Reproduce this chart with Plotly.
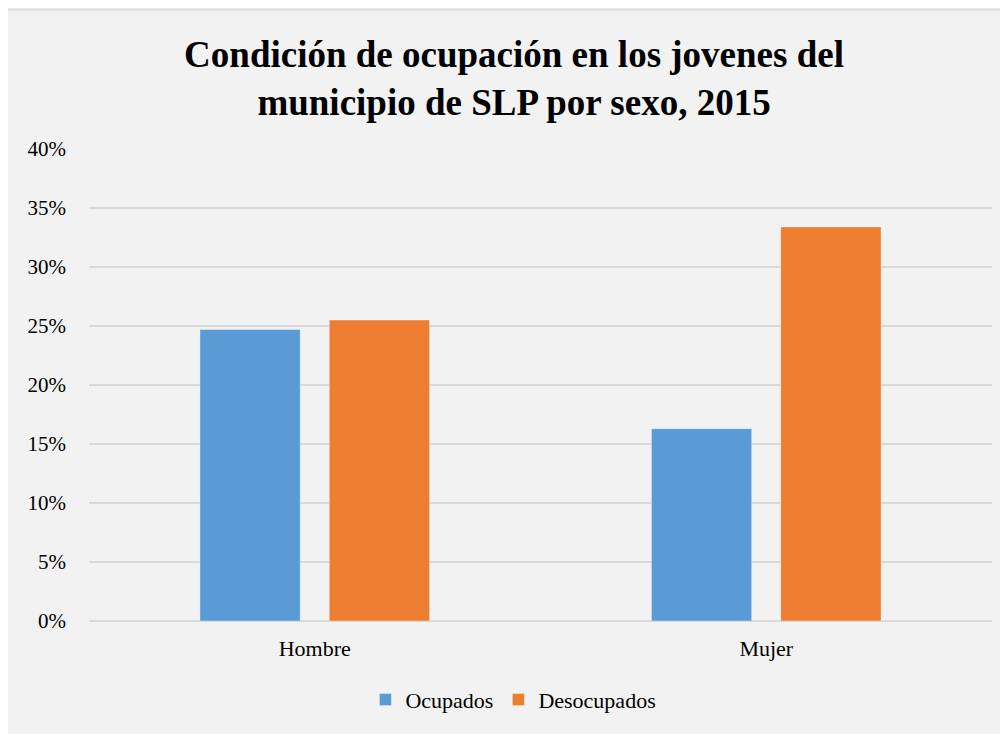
import plotly.graph_objects as go

categories = ["Hombre", "Mujer"]
ocupados = [0.247, 0.163]
desocupados = [0.255, 0.334]
y_ticks = [0, 0.05, 0.10, 0.15, 0.20, 0.25, 0.30, 0.35, 0.40]
y_labels = ["0%", "5%", "10%", "15%", "20%", "25%", "30%", "35%", "40%"]

font_serif = "Liberation Serif"

fig = go.Figure()
fig.add_trace(go.Bar(
    x=categories, y=ocupados, name="Ocupados",
    marker=dict(color="#5B9BD5", line=dict(color="rgba(255,255,255,0.35)", width=1)),
))
fig.add_trace(go.Bar(
    x=categories, y=desocupados, name="Desocupados",
    marker=dict(color="#ED7D31", line=dict(color="rgba(255,255,255,0.35)", width=1)),
))

# chart-area background with border (Excel look)
fig.add_shape(
    type="rect", xref="paper", yref="paper",
    x0=-0.0908, x1=1.2, y0=-0.4, y1=1.2955,
    fillcolor="#F2F2F2", line=dict(color="#D9D9D9", width=2), layer="below",
)

# page body has an 8px margin, so the figure is 8px smaller
fig.update_layout(
    width=1000, height=726,
    margin=dict(l=81, r=16, t=141, b=113),
    paper_bgcolor="white",
    plot_bgcolor="rgba(0,0,0,0)",
    barmode="group",
    bargap=0.427,
    bargroupgap=0.225,
    font=dict(family=font_serif, size=21, color="#000000"),
    title=dict(
        text="<b>Condición de ocupación en los jovenes del<br>municipio de SLP por sexo, 2015</b>",
        font=dict(family=font_serif, size=37, color="#000000"),
        x=0.4707, xref="paper", xanchor="center",
        y=0.919, yref="container", yanchor="middle",
    ),
    legend=dict(
        orientation="h", x=0.47, xanchor="center", y=-0.167, yanchor="middle",
        font=dict(family=font_serif, size=22), bgcolor="rgba(0,0,0,0)",
        itemwidth=30, tracegroupgap=0,
    ),
    showlegend=True,
)
fig.update_yaxes(
    range=[0, 0.40], tickvals=y_ticks, ticktext=y_labels,
    showgrid=True, gridcolor="#D9D9D9", gridwidth=1.5,
    zeroline=True, zerolinecolor="#D9D9D9", zerolinewidth=1.5,
    showline=False, ticklabelstandoff=22,
    tickfont=dict(family=font_serif, size=21, color="#000000"),
)
fig.update_xaxes(
    showgrid=False, showline=False,
    ticks="outside", ticklen=8, tickcolor="rgba(0,0,0,0)",
    tickfont=dict(family=font_serif, size=22, color="#000000"),
)

fig.write_html("out.html")
